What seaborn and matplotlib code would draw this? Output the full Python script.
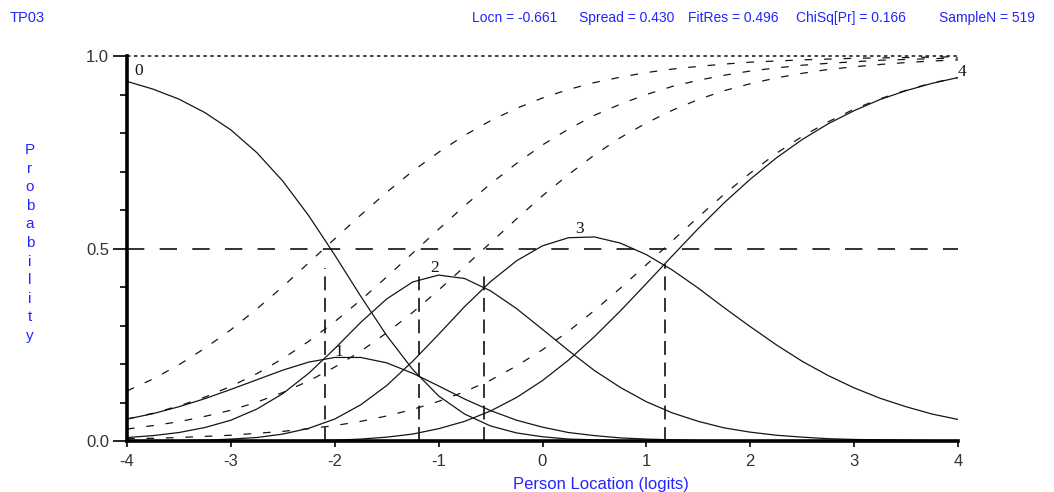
import matplotlib
matplotlib.use("Agg")
import matplotlib.pyplot as plt
import seaborn as sns

# ---------------- data ----------------
x_logits = [-4.0, -3.75, -3.5, -3.25, -3.0, -2.75, -2.5, -2.25, -2.0, -1.75, -1.5,
            -1.25, -1.0, -0.75, -0.5, -0.25, 0.0, 0.25, 0.5, 0.75, 1.0, 1.25, 1.5,
            1.75, 2.0, 2.25, 2.5, 2.75, 3.0, 3.25, 3.5, 3.75, 4.0]

# category probability curves (solid)
p_cat0 = [0.934, 0.914, 0.888, 0.853, 0.808, 0.749, 0.675, 0.585, 0.483, 0.376, 0.274,
          0.186, 0.117, 0.070, 0.039, 0.021, 0.011, 0.005, 0.003, 0.001, 0.001, 0.0, 0.0,
          0.0, 0.0, 0.0, 0.0, 0.0, 0.0, 0.0, 0.0, 0.0, 0.0]
p_cat1 = [0.057, 0.071, 0.089, 0.110, 0.134, 0.159, 0.184, 0.205, 0.217, 0.217, 0.203,
          0.176, 0.143, 0.109, 0.079, 0.054, 0.036, 0.022, 0.014, 0.008, 0.005, 0.003, 0.001,
          0.001, 0.0, 0.0, 0.0, 0.0, 0.0, 0.0, 0.0, 0.0, 0.0]
p_cat2 = [0.009, 0.014, 0.022, 0.035, 0.054, 0.083, 0.123, 0.176, 0.240, 0.308, 0.369,
          0.413, 0.431, 0.422, 0.390, 0.344, 0.290, 0.235, 0.183, 0.139, 0.102, 0.073, 0.051,
          0.034, 0.023, 0.015, 0.010, 0.006, 0.004, 0.003, 0.002, 0.001, 0.001]
p_cat3 = [0.000, 0.001, 0.001, 0.002, 0.005, 0.009, 0.018, 0.033, 0.057, 0.094, 0.144,
          0.207, 0.277, 0.349, 0.414, 0.468, 0.507, 0.528, 0.530, 0.514, 0.484, 0.444, 0.397,
          0.346, 0.297, 0.250, 0.207, 0.170, 0.138, 0.111, 0.089, 0.070, 0.056]
p_cat4 = [0.0, 0.0, 0.0, 0.0, 0.0, 0.0, 0.001, 0.001, 0.002, 0.005, 0.010,
          0.018, 0.032, 0.051, 0.078, 0.113, 0.157, 0.210, 0.271, 0.338, 0.409, 0.481, 0.552,
          0.619, 0.680, 0.735, 0.783, 0.824, 0.858, 0.887, 0.910, 0.929, 0.944]

# threshold probability curves (dashed)
thr_curve_a = [0.130, 0.161, 0.198, 0.241, 0.289, 0.343, 0.401, 0.463, 0.525, 0.587, 0.646,
               0.701, 0.750, 0.794, 0.832, 0.864, 0.891, 0.913, 0.931, 0.945, 0.957, 0.966,
               0.973, 0.979, 0.984, 0.987, 0.990, 0.992, 0.994, 0.995, 0.996, 0.997, 0.998]
thr_curve_b = [0.057, 0.072, 0.091, 0.114, 0.142, 0.175, 0.214, 0.259, 0.310, 0.366, 0.426,
               0.488, 0.550, 0.611, 0.668, 0.721, 0.769, 0.810, 0.846, 0.875, 0.900, 0.921,
               0.937, 0.950, 0.961, 0.969, 0.976, 0.981, 0.985, 0.989, 0.991, 0.993, 0.995]
thr_curve_c = [0.031, 0.040, 0.050, 0.064, 0.080, 0.101, 0.126, 0.156, 0.192, 0.233, 0.281,
               0.334, 0.392, 0.453, 0.515, 0.577, 0.637, 0.692, 0.743, 0.788, 0.826, 0.859,
               0.887, 0.910, 0.928, 0.943, 0.955, 0.965, 0.972, 0.978, 0.983, 0.987, 0.990]
thr_curve_d = [0.006, 0.007, 0.009, 0.012, 0.015, 0.020, 0.025, 0.032, 0.040, 0.051, 0.065,
               0.082, 0.103, 0.128, 0.158, 0.195, 0.237, 0.285, 0.339, 0.397, 0.458, 0.520,
               0.582, 0.641, 0.696, 0.747, 0.791, 0.829, 0.862, 0.889, 0.911, 0.930, 0.944]

# threshold markers (vertical dashed lines)
thr_x = [-2.09, -1.19, -0.56, 1.18]
thr_top = [0.45, 0.445, 0.445, 0.46]

# curve labels
cat_labels = ["0", "1", "2", "3", "4"]
cat_label_x = [-3.89, -1.96, -1.035, 0.36, 4.04]
cat_label_y = [0.961, 0.231, 0.449, 0.551, 0.958]

x_ticks = [-4, -3, -2, -1, 0, 1, 2, 3, 4]
x_ticklabels = ["-4", "-3", "-2", "-1", "0", "1", "2", "3", "4"]
y_ticks = [0.0, 0.5, 1.0]
y_ticklabels = ["0.0", "0.5", "1.0"]
y_minor = [0.1, 0.2, 0.3, 0.4, 0.6, 0.7, 0.8, 0.9]

item_name = "TP03"
stats_text = ["Locn = -0.661", "Spread = 0.430", "FitRes = 0.496",
              "ChiSq[Pr] = 0.166", "SampleN = 519"]

# ---------------- style ----------------
sns.set_theme(style="white")
plt.rcParams['font.family'] = ['Liberation Sans', 'DejaVu Sans']
plt.rcParams['lines.scale_dashes'] = False

W, H = 1054, 492
fig = plt.figure(figsize=(W / 100, H / 100), dpi=100)
fig.patch.set_facecolor('white')
ax = fig.add_axes([127 / W, 1 - 441 / H, 831 / W, 385 / H])
ax.set_facecolor('white')

blue = '#2424ff'
ink = '#151515'

# reference lines
ax.axhline(1.0, color='#333333', lw=1.3, linestyle=(0, (2.5, 2.5)), zorder=1, clip_on=False)
ax.axhline(0.5, color='#222222', lw=1.3, linestyle=(0, (12.5, 11)), zorder=1)
ax.vlines(thr_x, 0, thr_top, colors='#222222', lw=1.3, linestyles=[(0, (10, 5.5))], zorder=1)

# dashed threshold curves
for ys in [thr_curve_a, thr_curve_b, thr_curve_c, thr_curve_d]:
    sns.lineplot(x=x_logits, y=ys, ax=ax, color=ink, lw=0.9,
                 linestyle=(0, (5.5, 8.5)), estimator=None, sort=False, zorder=2)

# solid category curves
for ys in [p_cat0, p_cat1, p_cat2, p_cat3, p_cat4]:
    sns.lineplot(x=x_logits, y=ys, ax=ax, color=ink, lw=0.9,
                 estimator=None, sort=False, zorder=3)

for lab, lx, ly in zip(cat_labels, cat_label_x, cat_label_y):
    ax.text(lx, ly, lab, ha='center', va='center', fontsize=12.5,
            family=['Liberation Serif', 'DejaVu Serif'], color=ink, clip_on=False)

ax.set_xlim(-4, 4)
ax.set_ylim(0, 1)
sns.despine(ax=ax)
for side in ['left', 'bottom']:
    ax.spines[side].set_linewidth(2.6)
    ax.spines[side].set_color('black')
    ax.spines[side].set_zorder(4)

ax.set_xticks(x_ticks)
ax.set_xticklabels(x_ticklabels)
ax.set_yticks(y_ticks)
ax.set_yticklabels(y_ticklabels)
ax.set_yticks(y_minor, minor=True)
ax.tick_params(axis='x', which='major', bottom=True, direction='out', length=4.5,
               width=1.2, color='black', pad=5, labelsize=12, labelcolor='#333333')
ax.tick_params(axis='y', which='major', left=True, direction='out', length=10,
               width=1.2, color='black', pad=3, labelsize=12, labelcolor='#333333')
ax.tick_params(axis='y', which='minor', left=True, direction='out', length=5,
               width=1.2, color='black')
ax.set_xlabel("")
ax.set_ylabel("")
ax.grid(False)

# texts
fig.text(10 / W, 1 - 18 / H, item_name, ha='left', va='center', fontsize=10.5, color=blue)
stat_cx = [515, 627, 733, 851, 987]
for sx, st in zip(stat_cx, stats_text):
    fig.text(sx / W, 1 - 18 / H, st, ha='center', va='center', fontsize=10, color=blue)

fig.text(30 / W, 1 - 243 / H, "\n".join("Probability"), ha='center', va='center',
         fontsize=11, color=blue, linespacing=1.42)
fig.text(601 / W, 1 - 484 / H, "Person Location (logits)", ha='center', va='center',
         fontsize=12, color=blue)

fig.savefig("out.png", dpi=100, facecolor='white')
